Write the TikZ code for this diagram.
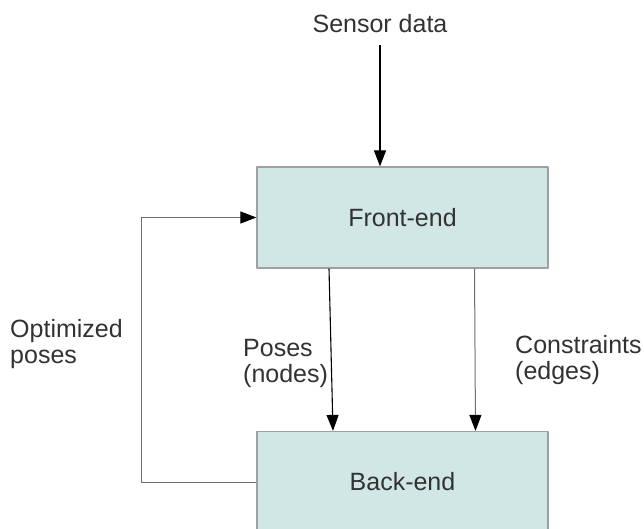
\documentclass[tikz,border=0pt]{standalone}
\usepackage{fontspec}
\setmainfont{Liberation Sans}
\usetikzlibrary{arrows.meta}
\definecolor{boxfill}{RGB}{208,231,229}
\definecolor{boxline}{RGB}{160,160,160}
\definecolor{txt}{RGB}{50,50,50}
\definecolor{wire}{RGB}{110,110,110}
\begin{document}
\begin{tikzpicture}[x=1pt,y=-1pt,>={Triangle[length=16pt,width=12pt,color=black]},line join=round,
    font=\fontsize{25}{26}\selectfont,text=txt,
    box/.style={draw=boxline,fill=boxfill,line width=1.2pt,minimum width=291pt,minimum height=101pt,inner sep=0pt},
    lbl/.style={align=left,anchor=north west,inner sep=0pt}]
    \useasboundingbox (0,0) rectangle (644,528);
    \node[box] (front) at (402.5,217.5) {Front-end};
    \node[box] (back) at (402.5,482) {Back-end};
    \node[anchor=base,inner sep=0pt] (sensor) at (380,32) {Sensor data};
    \node[lbl] (optim) at (10,319) {Optimized\\poses};
    \node[lbl] (poses) at (243,339) {Poses\\(nodes)};
    \node[lbl] (constr) at (515,335) {Constraints\\(edges)};
    \draw[->,line width=1.1pt] ([yshift=-13pt]sensor.south) -- (sensor.south |- front.north);
    \draw[->,line width=1.1pt] ([xshift=-73.5pt]front.south) -- ([xshift=-69.5pt]back.north);
    \draw[->,wire,line width=1pt] ([xshift=72pt]front.south) -- ([xshift=73pt]back.north);
    \draw[->,wire,line width=1pt] (back.west) -- ++(-115,0) |- (front.west);
\end{tikzpicture}
\end{document}
